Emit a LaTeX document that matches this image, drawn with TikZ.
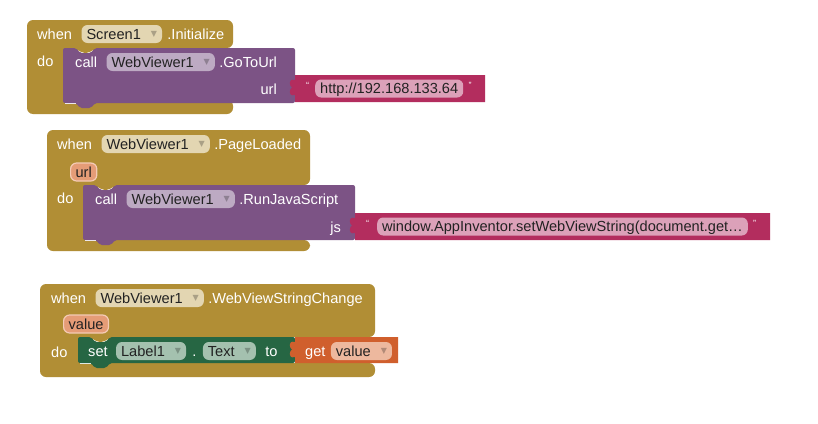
\documentclass[tikz,border=0pt]{standalone}
\usepackage{fontspec}
\setmainfont{Liberation Sans}
\newfontfamily\symfont{DejaVu Sans}
\usetikzlibrary{positioning}

\definecolor{Cgold}{HTML}{B18E35}
\definecolor{Cgoldfield}{HTML}{E3D6B2}
\definecolor{Cpurple}{HTML}{7C5385}
\definecolor{Cpurplefield}{HTML}{BDAAC3}
\definecolor{Cpink}{HTML}{B32D5E}
\definecolor{Cpinkfield}{HTML}{DCA1B9}
\definecolor{Cgreen}{HTML}{266643}
\definecolor{Cgreenfield}{HTML}{A4C1AF}
\definecolor{Corange}{HTML}{D05F2D}
\definecolor{Corangefield}{HTML}{EDB89E}
\definecolor{Cparam}{HTML}{E59C77}
\definecolor{Cparamline}{HTML}{F4CBB5}
\definecolor{Ctext}{HTML}{222222}

\newcommand\blockfont{\fontsize{14.6}{16}\selectfont}
\newcommand\ddarrow[1]{\hspace{10pt}\raisebox{2.5pt}{\symfont\fontsize{8}{8}\selectfont\textcolor{#1!75!black}{▼}}\hspace{3pt}}

\tikzset{
	lbl/.style={anchor=west,inner sep=0,text=white,font=\blockfont,text height=10,text depth=0},
	field/.style={anchor=west,rounded corners=6,inner xsep=5,inner ysep=0,minimum height=18,
		text=Ctext,font=\blockfont,text height=10,text depth=0},
	param/.style={field,fill=Cparam,draw=Cparamline,line width=1.2},
	quote/.style={anchor=west,inner sep=0,text=white,font=\fontsize{9}{9}\selectfont},
}

\begin{document}
\begin{tikzpicture}[x=1pt,y=-1pt]
		\fill[white] (0,0) rectangle (818,423);
		\useasboundingbox (0,0) rectangle (818,423);
		% event blocks (gold C shapes)
		\foreach \l/\t/\r/\hb/\a/\bt/\b in {27/20/233/48/63/100/114,
				47/130/310/185/83/240/251,40/284/375/337/78/363/377}{
				\fill[Cgold,rounded corners=6]
				(\l,\t) -- (\r,\t) -- (\r,\hb) -- (\a+32,\hb)
				-- (\a+28,\hb+5) -- (\a+17,\hb+5) -- (\a+13,\hb) -- (\a,\hb) -- (\a,\bt) -- (\r,\bt)
				-- (\r,\b) -- (\l,\b) -- cycle;}
		% statement blocks
		\foreach \c/\l/\t/\r/\b in {Cpurple/63/48/295/103,Cpurple/83/185/355/240,
				Cgreen/78/337/295/363}{
				\fill[\c,rounded corners=2]
				(\l,\t) -- (\l+13,\t) -- (\l+17,\t+5) -- (\l+28,\t+5) -- (\l+32,\t) -- (\r,\t)
				-- (\r,\b) -- (\l+32,\b) -- (\l+28,\b+5) -- (\l+17,\b+5) -- (\l+13,\b)
				-- (\l,\b) -- cycle;
				\draw[white!85!\c,line width=1] (\l+2,\b+0.8) -- (\l+13,\b+0.8);}
		% value blocks with input tab
		\foreach \c/\l/\t/\r/\b in {Cpink/295/75/485/102,Cpink/355/213/770/240,
				Corange/295/337/398/363}{
				\fill[\c]
				(\l,\t) -- (\r,\t) -- (\r,\b) -- (\l,\b) -- (\l,\t+20)
				.. controls (\l-8,\t+22) and (\l-5,\t+13) .. (\l-3,\t+12.5)
				.. controls (\l-5,\t+12) and (\l-8,\t+3) .. (\l,\t+5) -- cycle;}

		% Screen1.Initialize
		\node[lbl] (whenA) at (37,34) {when};
		\node[field,fill=Cgoldfield,right=9pt of whenA] (screenA) {Screen1\ddarrow{Cgoldfield}};
		\node[lbl,right=5pt of screenA] (initA) {.Initialize};
		\node[lbl] (doA) at (37,61) {do};
		\node[lbl] (callA) at (75,62) {call};
		\node[field,fill=Cpurplefield,right=9pt of callA] (viewA) {WebViewer1\ddarrow{Cpurplefield}};
		\node[lbl,right=4pt of viewA] (gotoA) {.GoToUrl};
		\node[lbl,anchor=east] (urlA) at (277,89) {url};
		\node[quote] (oqA) at (306,85) {“};
		\node[field,fill=Cpinkfield] (addrA) at (315,88.5) {http://192.168.133.64};
		\node[quote,right=5pt of addrA.east,yshift=3.5pt,anchor=west] (cqA) {”};

		% WebViewer1.PageLoaded
		\node[lbl] (whenB) at (57,144) {when};
		\node[field,fill=Cgoldfield,right=9pt of whenB] (viewB) {WebViewer1\ddarrow{Cgoldfield}};
		\node[lbl,right=4pt of viewB] (loadB) {.PageLoaded};
		\node[param] (urlB) at (70,172) {url};
		\node[lbl] (doB) at (57,198) {do};
		\node[lbl] (callB) at (95,199) {call};
		\node[field,fill=Cpurplefield,right=9pt of callB] (viewB2) {WebViewer1\ddarrow{Cpurplefield}};
		\node[lbl,right=4pt of viewB2] (runB) {.RunJavaScript};
		\node[lbl,anchor=east] (jsB) at (341,227) {js};
		\node[quote] (oqB) at (366,223) {“};
		\node[field,fill=Cpinkfield] (codeB) at (377,226.5) {window.AppInventor.setWebViewString(document.get…};
		\node[quote,right=5pt of codeB.east,yshift=3.5pt,anchor=west] (cqB) {”};

		% WebViewer1.WebViewStringChange
		\node[lbl] (whenC) at (51,298) {when};
		\node[field,fill=Cgoldfield,right=9pt of whenC] (viewC) {WebViewer1\ddarrow{Cgoldfield}};
		\node[lbl,right=4pt of viewC] (changeC) {.WebViewStringChange};
		\node[param] (valC) at (63,324) {value};
		\node[lbl] (doC) at (51,352) {do};
		\node[lbl] (setC) at (88,351) {set};
		\node[field,fill=Cgreenfield,right=8pt of setC] (labelC) {Label1\ddarrow{Cgreenfield}};
		\node[lbl,right=6pt of labelC] (dotC) {.};
		\node[field,fill=Cgreenfield,right=6pt of dotC] (textC) {Text\ddarrow{Cgreenfield}};
		\node[lbl,right=9pt of textC] (toC) {to};
		\node[lbl] (getC) at (305,351) {get};
		\node[field,fill=Corangefield,right=5pt of getC] (varC) {value\ddarrow{Corangefield}};
	\end{tikzpicture}
\end{document}
